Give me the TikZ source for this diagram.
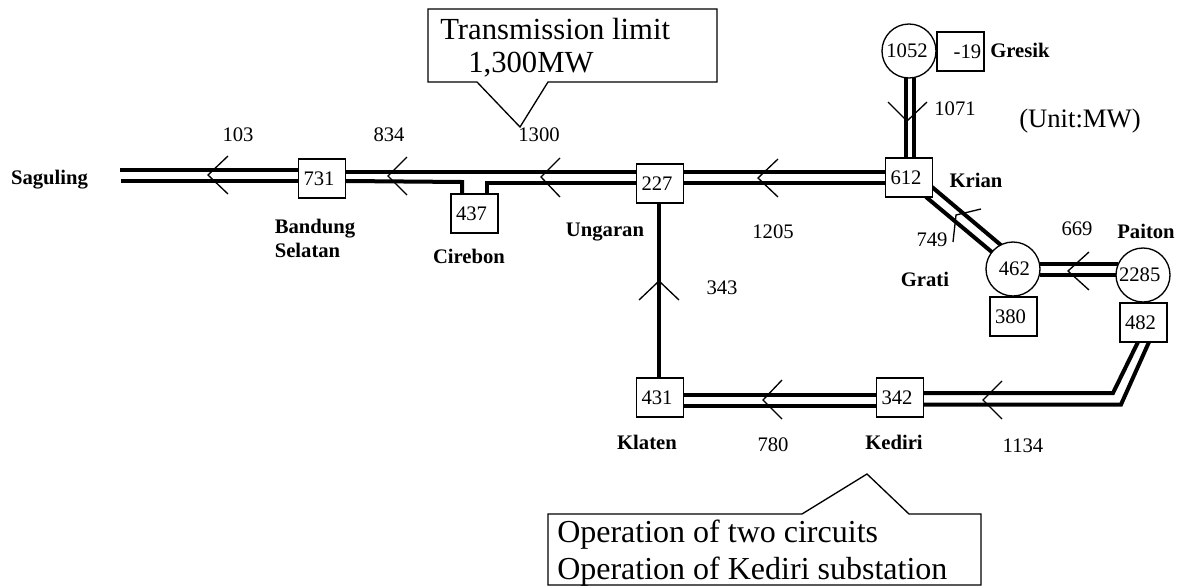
\documentclass[tikz,border=0pt]{standalone}
\usepackage{fontspec}
\setmainfont{Liberation Serif}
\tikzset{
  x=0.75pt,y=-0.75pt,
  bus/.style={draw,line width=3pt},
  busbox/.style={draw,line width=1pt,fill=white,inner sep=0pt,minimum width=35.25pt,minimum height=29.25pt,text width=35.25pt,align=left,execute at begin node={\hspace*{3.75pt}},font=\fontsize{15.5}{15.5}\selectfont},
  gen/.style={draw,circle,line width=1pt,fill=white,inner sep=0pt,minimum size=40.5pt,font=\fontsize{15.5}{15.5}\selectfont},
  flow/.style={draw,line width=1pt},
  num/.style={inner sep=0pt,font=\fontsize{15.5}{15.5}\selectfont},
  stn/.style={inner sep=0pt,font=\fontsize{15.5}{18.5}\selectfont\bfseries,align=left},
  callout/.style={draw,line width=1pt},
  big/.style={inner sep=0pt,anchor=west,font=\fontsize{23}{23}\selectfont},
  bigger/.style={inner sep=0pt,anchor=west,font=\fontsize{24}{24}\selectfont},
}
\begin{document}
\begin{tikzpicture}
\useasboundingbox (0,0) rectangle (1183,586);
% free line ends
\coordinate (sagA) at (120,170);
\coordinate (sagB) at (121,181);
% double lines, drawn first so that the stations cover their ends
\draw[bus] (sagA) -- (298,170);
\draw[bus] (sagB) -- (298,181);
\draw[bus] (346,172) -- (637,172);
\draw[bus] (346,181) -- (462,182) -- (462,195);
\draw[bus] (487,195) -- (487,182.5) -- (637,182.5);
\draw[bus] (683,172) -- (886,172);
\draw[bus] (683,183) -- (886,183);
\draw[bus] (906,78) -- (906,158);
\draw[bus] (914,78) -- (914,158);
\draw[bus] (932,187) -- (1002,246);
\draw[bus] (926,197) -- (993,253);
\draw[bus] (1040,264) -- (1118,264);
\draw[bus] (1040,274.5) -- (1117,274.5);
\draw[bus] (683,395) -- (877,395);
\draw[bus] (683,406) -- (877,406);
\draw[bus,line join=miter] (923,393) -- (1113,393) -- (1138,342);
\draw[bus,line join=miter] (923,404.5) -- (1121,404.5) -- (1149,342);
% nodes
\node[busbox] (b731) at (322,178.5) {731};
\node[busbox] (b437) at (474.5,213.5) {437};
\node[busbox] (b227) at (660,183.5) {227};
\node[busbox] (b612) at (909,177.5) {612};
\node[busbox] (b431) at (660,397.5) {431};
\node[busbox] (b342) at (900,397.5) {342};
\node[busbox] (b482) at (1143.5,322.5) {482};
\node[busbox] (b380) at (1013.5,316.5) {380};
\node[busbox] (bm19) at (960.5,51.5) {\hspace*{8.75pt}-19};
\node[gen] (g1052) at (909,51) {\hspace*{-3pt}1052};
\node[gen] (g462) at (1013,269) {\hspace*{2pt}462};
\node[gen] (g2285) at (1143,275) {\hspace*{-5pt}2285};
\draw[bus] (b227.south -| 659,0) -- (b431.north -| 659,0);
% flow arrows
\draw[flow] (228,156) -- (208,175) -- (228,194);
\draw[flow] (407,157) -- (388,176) -- (407,195);
\draw[flow] (560,158) -- (541,177) -- (560,197);
\draw[flow] (778,159) -- (758,178) -- (778,197);
\draw[flow] (639,300) -- (659,281) -- (679,300);
\draw[flow] (782,380) -- (763,400) -- (782,419);
\draw[flow] (1002,381) -- (983,400) -- (1002,419);
\draw[flow] (1089,252) -- (1068,271) -- (1089,290);
\draw[flow] (888,102) -- (907,121) -- (927,102);
\draw[flow] (981,209) -- (956,215) -- (953,242);
% flow values
\node[num] (v103) at (238,135) {103};
\node[num] (v834) at (389,135) {834};
\node[num] (v1300) at (539,135) {1300};
\node[num] (v1205) at (773,232) {1205};
\node[num] (v343) at (722,288) {343};
\node[num] (v780) at (773,445) {780};
\node[num] (v1134) at (1023,446) {1134};
\node[num] (v749) at (932,240) {749};
\node[num] (v669) at (1077,229) {669};
\node[num] (v1071) at (955,109) {1071};
\node[inner sep=0pt,font=\fontsize{20}{20}\selectfont] (unit) at (1080,121) {(Unit:MW)};
% names
\node[stn] (nSag) at (49.5,180) {Saguling};
\node[stn,anchor=west] (nBan) at (274.5,238.5) {Bandung\\Selatan};
\node[stn] (nCir) at (469,256) {Cirebon};
\node[stn] (nUng) at (605,232) {Ungaran};
\node[stn] (nKri) at (976,180) {Krian};
\node[stn] (nGre) at (1020,50) {Gresik};
\node[stn] (nPai) at (1146,231) {Paiton};
\node[stn] (nGra) at (925,279) {Grati};
\node[stn] (nKla) at (647,442) {Klaten};
\node[stn] (nKed) at (894,442) {Kediri};
% callouts
\draw[callout] (428,9) -- (717,9) -- (717,82) -- (548,82) -- (520,127) -- (477,82) -- (428,82) -- cycle;
\node[big] (c1a) at (440,29) {Transmission limit};
\node[big] (c1b) at (468,65) {1,300MW};
\draw[callout] (548,585) -- (548,514) -- (802,514) -- (867,474) -- (909,514) -- (981,514) -- (981,585) -- cycle;
\node[bigger] (c2a) at (557,535) {Operation of two circuits};
\node[bigger] (c2b) at (557,572) {Operation of Kediri substation};
\end{tikzpicture}
\end{document}
